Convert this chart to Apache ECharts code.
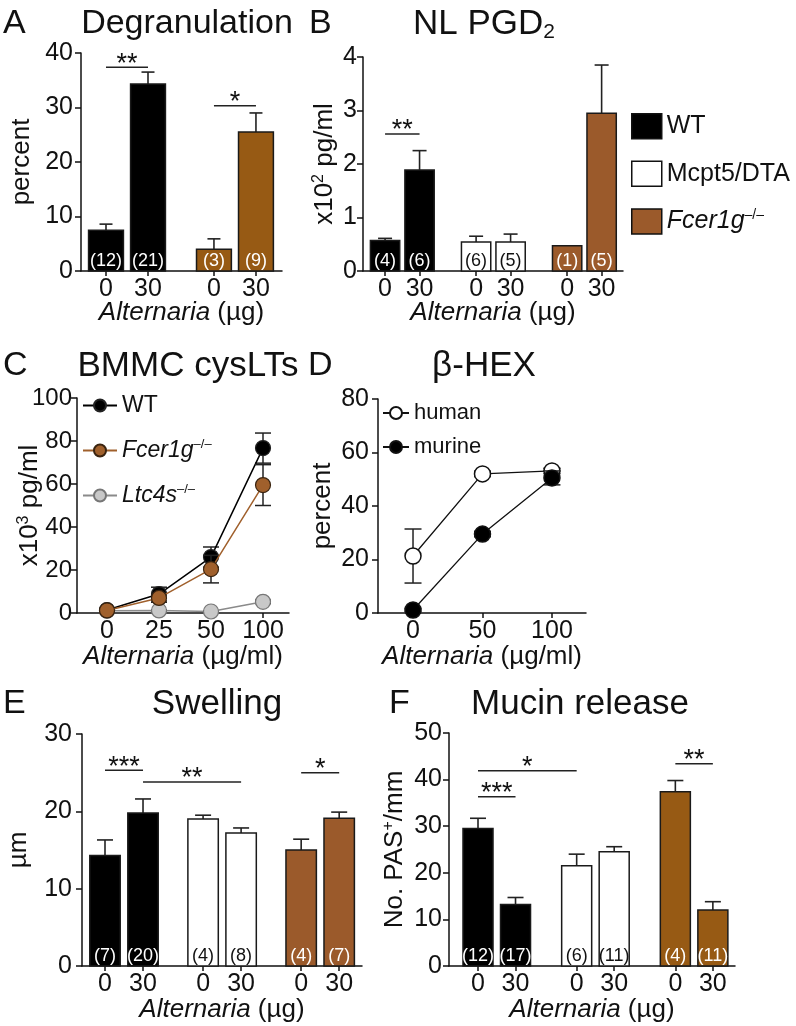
<!DOCTYPE html>
<html><head><meta charset="utf-8">
<script src="https://cdn.jsdelivr.net/npm/echarts@6/dist/echarts.min.js"></script>
<style>html,body{margin:0;padding:0;background:#fff}#c{width:796px;height:1026px}</style>
</head><body><div id="c"></div>
<script>
// ================= DATA =================
const doseLabels = ['0', '30'];
const genotypes = ['WT', 'Mcpt5/DTA', 'Fcer1g'];
// A  Degranulation (percent)
const aWT = [7.5, 34.3], aWTErr = [1.1, 2.2], aWTN = [12, 21];
const aFc = [4.0, 25.5], aFcErr = [1.9, 3.5], aFcN = [3, 9];
const aSig = [{from: [0, 0], to: [0, 1], y: 37.4, mark: '**'}, {from: [1, 0], to: [1, 1], y: 30.3, mark: '*'}];
// B  NL PGD2 (x10^2 pg/ml)
const bWT = [0.57, 1.89], bWTErr = [0.04, 0.36], bWTN = [4, 6];
const bMc = [0.54, 0.54], bMcErr = [0.11, 0.15], bMcN = [6, 5];
const bFc = [0.47, 2.95], bFcErr = [0, 0.9], bFcN = [1, 5];
const bSig = [{from: [0, 0], to: [0, 1], y: 2.56, mark: '**'}];
// C  BMMC cysLTs (x10^3 pg/ml)
const cDoses = ['0', '25', '50', '100'];
const cWT = [1.4, 8.8, 26.0, 76.7], cWTErr = [0.5, 3.2, 4.7, 7.0];
const cFc = [1.2, 7.0, 20.4, 59.5], cFcErr = [0.5, 2.0, 6.4, 9.5];
const cLt = [1.0, 1.2, 0.7, 5.2], cLtErr = [0.3, 0.3, 0.3, 0.8];
// D  beta-HEX (percent)
const dDoses = [0, 50, 100];
const dHuman = [21.3, 52.0, 53.1], dHumanErr = [10.1, 1.0, 1.0];
const dMurine = [1.1, 29.5, 50.5], dMurineErr = [0.5, 1.0, 2.6];
// E  Swelling (um)
const eWT = [14.3, 19.8], eWTErr = [2.0, 1.8], eWTN = [7, 20];
const eMc = [19.0, 17.2], eMcErr = [0.5, 0.65], eMcN = [4, 8];
const eFc = [15.0, 19.1], eFcErr = [1.4, 0.8], eFcN = [4, 7];
const eSig = [{from: [0, 0], to: [0, 1], y: 25.3, mark: '***'}, {from: [0, 1], to: [1, 1], y: 23.8, mark: '**'}, {from: [2, 0], to: [2, 1], y: 25.0, mark: '*'}];
// F  Mucin release (No. PAS+/mm)
const fWT = [29.5, 13.2], fWTErr = [2.2, 1.5], fWTN = [12, 17];
const fMc = [21.5, 24.5], fMcErr = [2.5, 1.1], fMcN = [6, 11];
const fFc = [37.4, 12.0], fFcErr = [2.4, 1.8], fFcN = [4, 11];
const fSig = [{from: [0, 0], to: [1, 0], y: 41.9, mark: '*'}, {from: [0, 0], to: [0, 1], y: 36.3, mark: '***'}, {from: [2, 0], to: [2, 1], y: 43.4, mark: '**'}];

// ================= STYLE / LAYOUT =================
const FONT = "'Liberation Sans', Arial, Helvetica, sans-serif";
const INK = '#111';
const BLACK = '#000', WHITE = '#fff', BROWN1 = '#975a14', BROWN2 = '#9b5a2b';
const grids = [], xAxes = [], yAxes = [], series = [];

function yAxisCfg(k, o) {
  return {gridIndex: k, type: 'value', min: 0, max: o.max, interval: o.interval,
    axisLine: {show: true, onZero: false, lineStyle: {color: INK, width: 1.5}},
    axisTick: {show: true, length: 6, lineStyle: {color: INK, width: 1.5}},
    axisLabel: {show: true, fontSize: o.labelSize || 25, margin: o.margin, color: INK, fontFamily: FONT},
    splitLine: {show: false},
    name: o.name, nameLocation: 'middle', nameRotate: 90, nameGap: o.gap, nameMoveOverlap: false,
    nameTextStyle: {fontSize: 26, color: INK, fontFamily: FONT,
      rich: {s: {fontSize: 16, padding: [0, 0, 12, 0], color: INK, fontFamily: FONT}}}};
}

function barRender(bw, capW, fill, txt) {
  return function (params, api) {
    const x = api.value(0), m = api.value(1), e = api.value(2), n = api.value(3);
    const tl = api.coord([x - bw / 2, m]), br = api.coord([x + bw / 2, 0]);
    const cx = api.coord([x, 0])[0];
    const ch = [];
    if (e > 0) {
      const t = api.coord([x, m + e])[1];
      ch.push({type: 'line', shape: {x1: cx, y1: tl[1], x2: cx, y2: t}, style: {stroke: '#222', lineWidth: 1.6}});
      ch.push({type: 'line', shape: {x1: cx - capW / 2, y1: t, x2: cx + capW / 2, y2: t}, style: {stroke: '#222', lineWidth: 1.6}});
    }
    ch.push({type: 'rect', shape: {x: tl[0], y: tl[1], width: br[0] - tl[0], height: br[1] - tl[1]},
      style: {fill: fill, stroke: '#1a1a1a', lineWidth: 1.5}});
    ch.push({type: 'text', style: {x: cx, y: br[1] - 10, text: '(' + n + ')', fill: txt, fontSize: 18,
      fontFamily: FONT, textAlign: 'center', textVerticalAlign: 'middle'}});
    return {type: 'group', children: ch};
  };
}

function sigRender(marks) {
  return function (params, api) {
    const p1 = api.coord([api.value(0), api.value(2)]), p2 = api.coord([api.value(1), api.value(2)]);
    return {type: 'group', children: [
      {type: 'line', shape: {x1: p1[0], y1: p1[1], x2: p2[0], y2: p2[1]}, style: {stroke: '#222', lineWidth: 1.5}},
      {type: 'text', style: {x: (p1[0] + p2[0]) / 2, y: p1[1] - 3, text: marks[params.dataIndex], fill: INK,
        fontSize: 27, fontFamily: FONT, textAlign: 'center', textVerticalAlign: 'middle'}}
    ]};
  };
}

function barPanel(k, L, groups, sigs, yOpt) {
  grids.push(Object.assign({containLabel: false, outerBoundsMode: 'none'}, L.grid));
  const pos = [];
  groups.forEach((g, gi) => doseLabels.forEach((d, di) => pos.push(gi * L.G + di)));
  xAxes.push({gridIndex: k, type: 'value', min: L.min, max: L.max,
    axisLine: {show: true, onZero: false, lineStyle: {color: INK, width: 1.5}},
    axisTick: {show: true, customValues: pos, length: 5, lineStyle: {color: INK, width: 1.5}},
    axisLabel: {show: true, customValues: pos, margin: 6, fontSize: 25, color: INK, fontFamily: FONT,
      formatter: function (v) {
        let bi = 0;
        pos.forEach((p, i) => { if (Math.abs(p - v) < Math.abs(pos[bi] - v)) bi = i; });
        return doseLabels[bi % doseLabels.length];
      }},
    splitLine: {show: false},
    name: '{i|Alternaria} (µg)', nameLocation: 'middle', nameGap: L.nameGap, nameMoveOverlap: false,
    nameTextStyle: {fontSize: 26, color: INK, fontFamily: FONT,
      rich: {i: {fontStyle: 'italic', fontSize: 26, color: INK, fontFamily: FONT}}}});
  yAxes.push(yAxisCfg(k, yOpt));
  groups.forEach((g, gi) => {
    series.push({type: 'custom', name: g.name, xAxisIndex: k, yAxisIndex: k, silent: true, z: 2,
      renderItem: barRender(L.bw, L.cap, g.fill, g.txt),
      encode: {x: 0, y: 1},
      data: g.means.map((m, di) => [gi * L.G + di, m, g.errs[di], g.ns[di]])});
  });
  series.push({type: 'custom', xAxisIndex: k, yAxisIndex: k, silent: true, z: 3,
    renderItem: sigRender(sigs.map(s => s.mark)),
    encode: {x: [0, 1], y: 2},
    data: sigs.map(s => [s.from[0] * L.G + s.from[1], s.to[0] * L.G + s.to[1], s.y])});
}

function errRender(capW) {
  return function (params, api) {
    const x = api.value(0), v = api.value(1), e = api.value(2);
    const lo = api.coord([x, v - e]), hi = api.coord([x, v + e]);
    const st = {stroke: '#222', lineWidth: 1.5};
    return {type: 'group', children: [
      {type: 'line', shape: {x1: lo[0], y1: lo[1], x2: hi[0], y2: hi[1]}, style: st},
      {type: 'line', shape: {x1: lo[0] - capW / 2, y1: lo[1], x2: lo[0] + capW / 2, y2: lo[1]}, style: st},
      {type: 'line', shape: {x1: hi[0] - capW / 2, y1: hi[1], x2: hi[0] + capW / 2, y2: hi[1]}, style: st}
    ]};
  };
}

// ---- Panel A (0) ----
barPanel(0, {grid: {left: 81, top: 53, width: 201, height: 218}, min: -0.595, max: 4.19, G: 2.57, bw: 0.83, cap: 13, nameGap: 29},
  [{name: genotypes[0], means: aWT, errs: aWTErr, ns: aWTN, fill: BLACK, txt: WHITE},
   {name: genotypes[2], means: aFc, errs: aFcErr, ns: aFcN, fill: BROWN1, txt: WHITE}],
  aSig, {max: 40, interval: 10, margin: 8, gap: 46, name: 'percent'});
// ---- Panel B (1) ----
barPanel(1, {grid: {left: 363, top: 57, width: 260, height: 214}, min: -0.64, max: 6.9, G: 2.64, bw: 0.85, cap: 14, nameGap: 29},
  [{name: genotypes[0], means: bWT, errs: bWTErr, ns: bWTN, fill: BLACK, txt: WHITE},
   {name: genotypes[1], means: bMc, errs: bMcErr, ns: bMcN, fill: WHITE, txt: INK},
   {name: genotypes[2], means: bFc, errs: bFcErr, ns: bFcN, fill: BROWN2, txt: WHITE}],
  bSig, {max: 4, interval: 1, margin: 6, gap: 24, name: 'x10{s|2} pg/ml'});

// ---- Panel C (2) ----
grids.push({left: 77, top: 398, width: 212, height: 215, containLabel: false, outerBoundsMode: 'none'});
xAxes.push({gridIndex: 2, type: 'value', min: -0.577, max: 3.5,
  axisLine: {show: true, onZero: false, lineStyle: {color: INK, width: 1.5}},
  axisTick: {show: true, customValues: [0, 1, 2, 3], length: 5, lineStyle: {color: INK, width: 1.5}},
  axisLabel: {show: true, customValues: [0, 1, 2, 3], margin: 6, fontSize: 25, color: INK, fontFamily: FONT,
    formatter: v => cDoses[Math.round(v)]},
  splitLine: {show: false},
  name: '{i|Alternaria} (µg/ml)', nameLocation: 'middle', nameGap: 31, nameMoveOverlap: false,
  nameTextStyle: {fontSize: 26, color: INK, fontFamily: FONT, rich: {i: {fontStyle: 'italic', fontSize: 26, color: INK, fontFamily: FONT}}}});
yAxes.push(yAxisCfg(2, {max: 100, interval: 20, margin: 5, gap: 33, labelSize: 24, name: 'x10{s|3} pg/ml'}));
const cSeries = [
  {name: 'cLt', data: cLt, err: cLtErr, fill: '#c8c8c8', border: '#777', line: '#8a8a8a'},
  {name: 'cWT', data: cWT, err: cWTErr, fill: '#000', border: '#222', line: '#000'},
  {name: 'cFc', data: cFc, err: cFcErr, fill: '#a0602c', border: '#3a2410', line: '#a0602c'}];
cSeries.forEach((s, i) => {
  series.push({type: 'custom', xAxisIndex: 2, yAxisIndex: 2, silent: true, z: 2 + i * 2,
    renderItem: errRender(16), encode: {x: 0, y: 1}, data: s.data.map((v, j) => [j, v, s.err[j]])});
  series.push({type: 'line', name: s.name, xAxisIndex: 2, yAxisIndex: 2, silent: true, z: 3 + i * 2,
    data: s.data.map((v, j) => [j, v]), symbol: 'circle', symbolSize: 15,
    itemStyle: {color: s.fill, borderColor: s.border, borderWidth: 1.2},
    lineStyle: {color: s.line, width: 1.5}});
});

// ---- Panel D (3) ----
grids.push({left: 378, top: 399, width: 208, height: 214, containLabel: false, outerBoundsMode: 'none'});
xAxes.push({gridIndex: 3, type: 'value', min: -25.2, max: 124.5,
  axisLine: {show: true, onZero: false, lineStyle: {color: INK, width: 1.5}},
  axisTick: {show: true, customValues: dDoses, length: 5, lineStyle: {color: INK, width: 1.5}},
  axisLabel: {show: true, customValues: dDoses, margin: 6, fontSize: 25, color: INK, fontFamily: FONT},
  splitLine: {show: false},
  name: '{i|Alternaria} (µg/ml)', nameLocation: 'middle', nameGap: 31, nameMoveOverlap: false,
  nameTextStyle: {fontSize: 26, color: INK, fontFamily: FONT, rich: {i: {fontStyle: 'italic', fontSize: 26, color: INK, fontFamily: FONT}}}});
yAxes.push(yAxisCfg(3, {max: 80, interval: 20, margin: 9, gap: 42, name: 'percent'}));
const dSeries = [
  {name: 'human', data: dHuman, err: dHumanErr, fill: '#fff'},
  {name: 'murine', data: dMurine, err: dMurineErr, fill: '#000'}];
dSeries.forEach((s, i) => {
  series.push({type: 'custom', xAxisIndex: 3, yAxisIndex: 3, silent: true, z: 2 + i * 2,
    renderItem: errRender(17), encode: {x: 0, y: 1}, data: s.data.map((v, j) => [dDoses[j], v, s.err[j]])});
  series.push({type: 'line', name: s.name, xAxisIndex: 3, yAxisIndex: 3, silent: true, z: 3 + i * 2,
    data: s.data.map((v, j) => [dDoses[j], v]), symbol: 'circle', symbolSize: 16,
    itemStyle: {color: s.fill, borderColor: '#111', borderWidth: 1.5},
    lineStyle: {color: '#111', width: 1.3}});
});

// ---- Panel E (4) ----
barPanel(4, {grid: {left: 82, top: 734, width: 280, height: 232}, min: -0.605, max: 6.76, G: 2.58, bw: 0.8, cap: 16, nameGap: 31},
  [{name: genotypes[0], means: eWT, errs: eWTErr, ns: eWTN, fill: BLACK, txt: WHITE},
   {name: genotypes[1], means: eMc, errs: eMcErr, ns: eMcN, fill: WHITE, txt: INK},
   {name: genotypes[2], means: eFc, errs: eFcErr, ns: eFcN, fill: BROWN2, txt: WHITE}],
  eSig, {max: 30, interval: 10, margin: 10, gap: 50, name: 'µm'});
// ---- Panel F (5) ----
barPanel(5, {grid: {left: 449, top: 733, width: 286, height: 233}, min: -0.773, max: 6.85, G: 2.63, bw: 0.8, cap: 16, nameGap: 31},
  [{name: genotypes[0], means: fWT, errs: fWTErr, ns: fWTN, fill: BLACK, txt: WHITE},
   {name: genotypes[1], means: fMc, errs: fMcErr, ns: fMcN, fill: WHITE, txt: INK},
   {name: genotypes[2], means: fFc, errs: fFcErr, ns: fFcN, fill: BROWN1, txt: WHITE}],
  fSig, {max: 50, interval: 10, margin: 7, gap: 40, name: 'No. PAS{s|+}/mm'});

// ---- titles ----
function txt(x, y, text, size, align, rich) {
  return {type: 'text', x: x, y: y, silent: true,
    style: {text: text, fontSize: size, fontFamily: FONT, fill: INK, textAlign: align || 'left', textVerticalAlign: 'middle', rich: rich}};
}
const graphics = [
  txt(3, 24, 'A', 34), txt(187, 24, 'Degranulation', 34, 'center'),
  txt(309, 24, 'B', 34), txt(413, 24, 'NL PGD{d|2}', 35, 'left', {d: {fontSize: 21, padding: [16, 0, 0, 0], fontFamily: FONT, fill: INK}}),
  txt(3, 366, 'C', 34), txt(188, 366, 'BMMC cysLTs', 35, 'center'),
  txt(308, 366, 'D', 34), txt(484, 366, 'β-HEX', 35, 'center'),
  txt(3, 704, 'E', 34), txt(217, 704, 'Swelling', 35, 'center'),
  txt(389, 704, 'F', 34), txt(580, 704, 'Mucin release', 35, 'center')
];

const legendNames = {Fcer1g: '{i|Fcer1g}{s|–/–}', cWT: 'WT', cFc: '{i|Fcer1g}{s|–/–}', cLt: '{i|Ltc4s}{s|–/–}'};
function legendRich(size) {
  return {i: {fontStyle: 'italic', fontSize: size, fontFamily: FONT, color: INK},
          s: {fontSize: Math.round(size * 0.55), padding: [0, 0, Math.round(size * 0.5), 0], fontFamily: FONT, color: INK}};
}
const option = {
  animation: false,
  backgroundColor: '#fff',
  textStyle: {fontFamily: FONT},
  grid: grids, xAxis: xAxes, yAxis: yAxes, series: series,
  graphic: {elements: graphics},
  legend: [
    {orient: 'vertical', left: 631, top: 113, padding: 0, itemWidth: 30, itemHeight: 25, itemGap: 21, selectedMode: false, icon: 'rect',
      data: [{name: 'WT', itemStyle: {color: BLACK, borderColor: '#111', borderWidth: 1.5}},
             {name: 'Mcpt5/DTA', itemStyle: {color: WHITE, borderColor: '#111', borderWidth: 1.5}},
             {name: 'Fcer1g', itemStyle: {color: BROWN2, borderColor: '#111', borderWidth: 1.5}}],
      formatter: n => legendNames[n] || n,
      textStyle: {fontSize: 25, color: INK, fontFamily: FONT, rich: legendRich(25)}},
    {orient: 'vertical', left: 82, top: 394, padding: 0, itemWidth: 34, itemHeight: 15, itemGap: 21, selectedMode: false,
      data: ['cWT', 'cFc', 'cLt'], formatter: n => legendNames[n] || n,
      textStyle: {fontSize: 23, color: INK, fontFamily: FONT, rich: legendRich(23)}},
    {orient: 'vertical', left: 382, top: 402, padding: 0, itemWidth: 26, itemHeight: 15, itemGap: 12, selectedMode: false,
      data: ['human', 'murine'],
      textStyle: {fontSize: 22, color: INK, fontFamily: FONT}}
  ]
};
const chart = echarts.init(document.getElementById('c'), null, {renderer: 'canvas', width: 796, height: 1026});
chart.setOption(option);
</script>
</body></html>
